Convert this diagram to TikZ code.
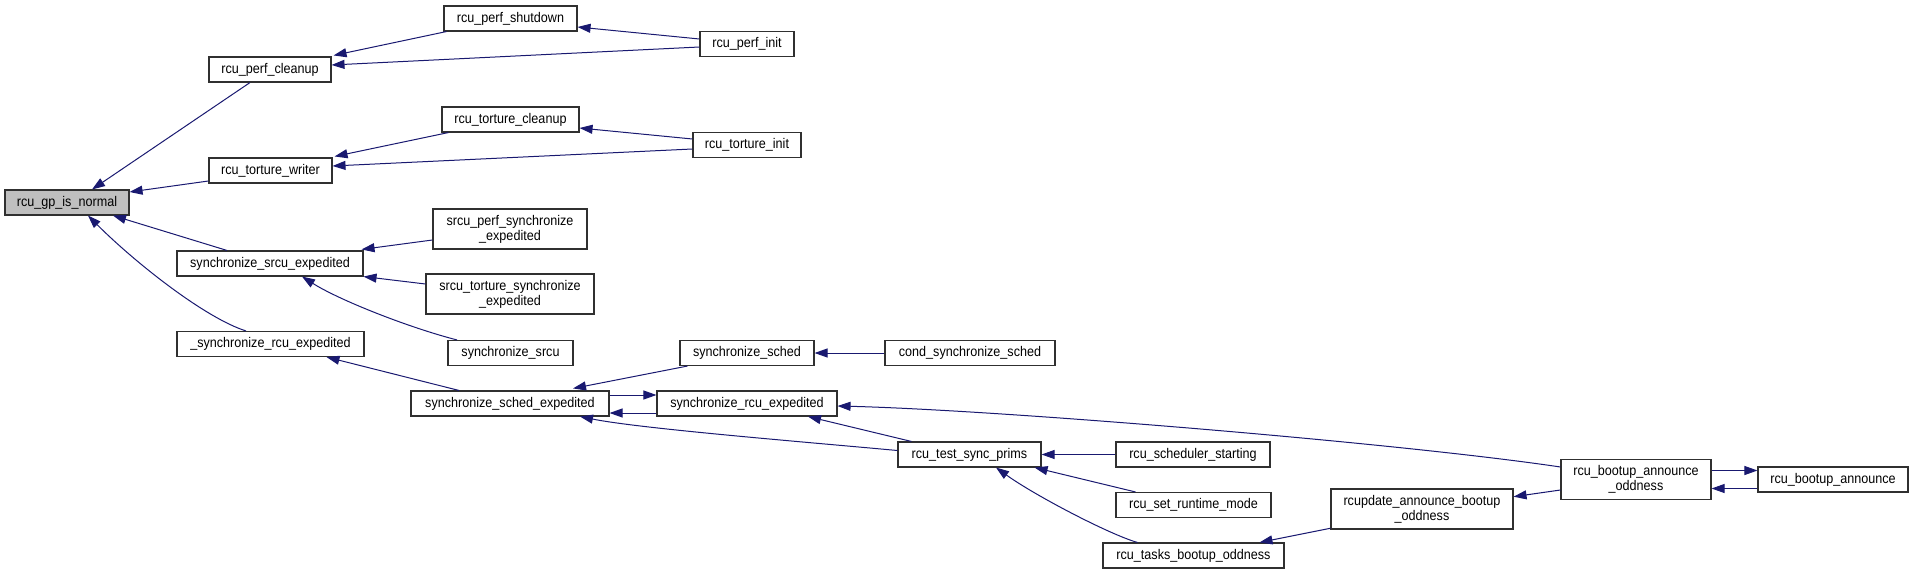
\documentclass[tikz,border=0pt]{standalone}
\usepackage{fontspec}
\setmainfont{Liberation Sans}[FakeStretch=0.9]
\usetikzlibrary{arrows.meta}
\definecolor{edgeblue}{HTML}{191970}
\definecolor{boxline}{HTML}{303030}
\definecolor{hl}{HTML}{BFBFBF}
\begin{document}
\begin{tikzpicture}[x=1pt,y=-1pt,
  fn/.style={draw=boxline, line width=1.1pt, fill=white, inner sep=0pt, align=center,
    font={\fontsize{14}{15}\selectfont}, minimum height=25pt},
  e/.style={draw=edgeblue, line width=1pt, -{Triangle[length=13pt,width=9pt]}}
]
\useasboundingbox (0,0) rectangle (1913,575);
\node[fn, fill=hl, minimum width=124pt] (gp) at (67,202.5) {rcu\_gp\_is\_normal};
\node[fn, minimum width=122pt] (pc) at (270,69.5) {rcu\_perf\_cleanup};
\node[fn, minimum width=133pt] (ps) at (510.5,18.5) {rcu\_perf\_shutdown};
\node[fn, minimum width=123pt] (tw) at (270.5,170.5) {rcu\_torture\_writer};
\node[fn, minimum width=137pt] (tc) at (510.5,119.5) {rcu\_torture\_cleanup};
\node[fn, minimum width=154pt, minimum height=40pt] (spe) at (510,229) {srcu\_perf\_synchronize\\\_expedited};
\node[fn, minimum width=186pt] (sse) at (270,263.5) {synchronize\_srcu\_expedited};
\node[fn, minimum width=168pt, minimum height=40pt] (ste) at (510,294) {srcu\_torture\_synchronize\\\_expedited};
\node[fn, minimum width=187pt] (usre) at (270.5,344) {\_synchronize\_rcu\_expedited};
\node[fn, minimum width=125pt] (ss) at (510.5,353) {synchronize\_srcu};
\node[fn, minimum width=198pt] (sse2) at (510,403.5) {synchronize\_sched\_expedited};
\node[fn, minimum width=94pt] (pi) at (747,44) {rcu\_perf\_init};
\node[fn, minimum width=108pt] (ti) at (747,145) {rcu\_torture\_init};
\node[fn, minimum width=134pt] (sched) at (747,353) {synchronize\_sched};
\node[fn, minimum width=170pt] (cond) at (970,353) {cond\_synchronize\_sched};
\node[fn, minimum width=180pt] (sre) at (747,403.5) {synchronize\_rcu\_expedited};
\node[fn, minimum width=143pt] (tsp) at (969.5,454.5) {rcu\_test\_sync\_prims};
\node[fn, minimum width=154pt] (rss) at (1193,454.5) {rcu\_scheduler\_starting};
\node[fn, minimum width=155pt] (rsrm) at (1193.5,505) {rcu\_set\_runtime\_mode};
\node[fn, minimum width=181pt] (rtbo) at (1193.5,555.5) {rcu\_tasks\_bootup\_oddness};
\node[fn, minimum width=182pt, minimum height=40pt] (rabo) at (1422,509) {rcupdate\_announce\_bootup\\\_oddness};
\node[fn, minimum width=150pt, minimum height=40pt] (rbao) at (1636,479.5) {rcu\_bootup\_announce\\\_oddness};
\node[fn, minimum width=150pt] (rba) at (1833,479.5) {rcu\_bootup\_announce};

\draw[e] ([xshift=-20pt]pc.south) -- ([xshift=25pt]gp.north);
\draw[e] ([yshift=-10.5pt]tw.west) -- ([yshift=10.5pt]gp.east);
\draw[e] ([xshift=-43pt]sse.north) -- ([xshift=46pt]gp.south);
\draw[e] ([xshift=-24.5pt]usre.north) .. controls +(-41,-13) and +(47,47) .. ([xshift=21pt]gp.south);
\draw[e] ([xshift=3pt]ps.south west) -- ([xshift=2pt,yshift=1pt]pc.north east);
\draw[e] ([yshift=-3pt]pi.west) -- ([yshift=4.5pt]pc.east);
\draw[e] ([yshift=5pt]pi.west) -- ([yshift=-8.5pt]ps.east);
\draw[e] ([xshift=7pt]tc.south west) -- ([xshift=2pt,yshift=1pt]tw.north east);
\draw[e] ([yshift=-4pt]ti.west) -- ([yshift=4.5pt]tw.east);
\draw[e] ([yshift=6pt]ti.west) -- ([yshift=-8.5pt]tc.east);
\draw[e] ([yshift=-11pt]spe.west) -- ([xshift=-2pt,yshift=1pt]sse.north east);
\draw[e] ([yshift=10pt]ste.west) -- (sse.south east);
\draw[e] ([xshift=-53.5pt]ss.north) .. controls +(-47,-12) and +(38,24) .. ([xshift=32pt]sse.south);
\draw[e] ([xshift=-51pt]sse2.north) -- ([xshift=56pt]usre.south);
\draw[e] ([xshift=8pt]sched.south west) -- ([xshift=63pt,yshift=2pt]sse2.north);
\draw[e] ([yshift=8.5pt]sse2.east) -- ([yshift=8.5pt]sre.west);
\draw[e] ([yshift=-9.5pt]sre.west) -- ([yshift=-9.5pt]sse2.east);
\draw[e] ([yshift=4pt]tsp.west) .. controls +(-98,-9) and +(60,12) .. ([xshift=70pt]sse2.south);
\draw[e] ([xshift=14pt]tsp.north west) -- ([xshift=61pt]sre.south);
\draw[e] (cond) -- (sched);
\draw[e] ([yshift=12.5pt]rbao.west) .. controls +(-161,-24) and +(162,4) .. ([yshift=-2.5pt]sre.east);
\draw[e] (rss) -- (tsp);
\draw[e] ([xshift=20pt]rsrm.north west) -- ([xshift=-7pt]tsp.south east);
\draw[e] ([xshift=35pt]rtbo.north west) .. controls +(-28,-8) and +(39,28) .. ([xshift=26.5pt]tsp.south);
\draw[e] ([yshift=1.3pt]rabo.south west) -- ([xshift=66pt]rtbo.north);
\draw[e] ([yshift=-10.5pt]rbao.west) -- ([yshift=12.3pt]rabo.east);
\draw[e] ([yshift=9pt]rbao.east) -- ([yshift=9pt]rba.west);
\draw[e] ([yshift=-9pt]rba.west) -- ([yshift=-9pt]rbao.east);
\end{tikzpicture}
\end{document}
